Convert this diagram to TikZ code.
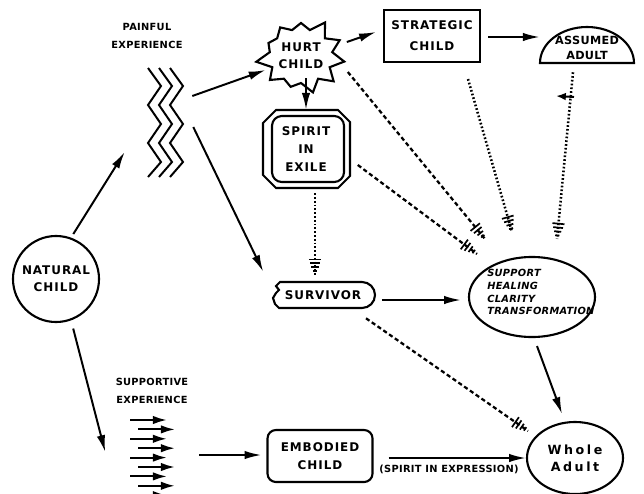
\documentclass[tikz,border=0pt]{standalone}
\usepackage{fontspec}
\newfontfamily\plotfont[LetterSpace=8]{DejaVu Sans}
\newfontfamily\smallplotfont[LetterSpace=3]{DejaVu Sans}
\newfontfamily\wholefont[LetterSpace=20]{DejaVu Sans}
\usetikzlibrary{shapes,arrows.meta,calc,decorations.markings}

\tikzset{
  lbl/.style={font=\plotfont\bfseries\fontsize{8.5}{12}\selectfont, align=center, inner sep=0pt},
  smalllbl/.style={font=\smallplotfont\bfseries\fontsize{7}{12.7}\selectfont, align=center, inner sep=0pt},
  box/.style={draw, line width=1.5pt},
  arr/.style={line width=1.4pt, -{Latex[length=12pt,width=6pt]}},
  smallarr/.style={line width=1.5pt, -{Latex[length=10pt,width=6pt]}},
  dotline/.style={line width=1.8pt, dash pattern=on 1.2pt off 1.5pt},
  dashline/.style={line width=1.6pt, dash pattern=on 3pt off 2pt},
  hatch/.style={postaction={decorate}, decoration={markings,
    mark=at position -2.5pt with {\draw[solid,line width=1.2pt] (0,-1.5pt) -- (0,1.5pt);},
    mark=at position -5.3pt with {\draw[solid,line width=1.2pt] (0,-2.5pt) -- (0,2.5pt);},
    mark=at position -8.1pt with {\draw[solid,line width=1.2pt] (0,-3.5pt) -- (0,3.5pt);},
    mark=at position -10.9pt with {\draw[solid,line width=1.2pt] (0,-4.3pt) -- (0,4.3pt);}}},
}

\begin{document}
\begin{tikzpicture}[x=0.025cm, y=-0.025cm]
\useasboundingbox (0,0) rectangle (644,493);

% nodes
\node[lbl, box, circle, minimum size=2.15cm] (natural) at (56,279) {NATURAL\\CHILD};
\node[smalllbl] (painfultext) at (147,36) {PAINFUL\\EXPERIENCE};
\node[minimum width=0.875cm, minimum height=2.725cm, inner sep=0pt] (painful) at (165,122) {};
\node[lbl, box, starburst, starburst points=11, starburst point height=0.35cm,
      random starburst=42, minimum width=2.1cm, minimum height=2.05cm] (hurt) at (301,56) {HURT\\CHILD};
\node[lbl, box, minimum width=2.4cm, minimum height=1.3cm,
      font=\plotfont\bfseries\fontsize{8.5}{15}\selectfont] (strategic) at (432,36) {STRATEGIC\\CHILD};
\node[lbl, minimum width=2.35cm, minimum height=0.9cm,
      font=\smallplotfont\bfseries\fontsize{8}{10.8}\selectfont] (assumed) at (587,48) {ASSUMED\\ADULT};
\node[lbl, minimum width=2.175cm, minimum height=1.95cm,
      font=\plotfont\bfseries\fontsize{8.5}{12.7}\selectfont] (spirit) at (306,149) {SPIRIT\\IN\\EXILE};
\node[lbl, minimum width=2.575cm, minimum height=0.65cm] (survivor) at (323,295) {SURVIVOR};
\node[box, ellipse, minimum width=3.15cm, minimum height=2cm, inner sep=0pt] (support) at (532,297) {};
\node[lbl, anchor=west, align=left,
      font=\smallplotfont\bfseries\itshape\fontsize{7}{9.2}\selectfont] (supportlist) at (487,292)
      {SUPPORT\\HEALING\\CLARITY\\TRANSFORMATION};
\node[smalllbl] (supportivetext) at (152,391) {SUPPORTIVE\\EXPERIENCE};
\node[minimum width=1.125cm, minimum height=1.875cm, inner sep=0pt] (supportive) at (152,455) {};
\node[lbl, box, rounded corners=6pt, minimum width=2.625cm, minimum height=1.3cm,
      font=\plotfont\bfseries\fontsize{8.5}{12.7}\selectfont] (embodied) at (320,456) {EMBODIED\\CHILD};
\node[lbl, box, ellipse, minimum width=2.4cm, minimum height=1.8cm,
      font=\wholefont\bfseries\fontsize{9}{12}\selectfont] (whole) at (575,458) {Whole\\Adult};

% outlines drawn by hand
\foreach \x in {148,159,170}
  \draw[line width=1.4pt] (\x,68) -- ++(13,18) -- ++(-13,19) -- ++(13,19) -- ++(-13,19) -- ++(13,19) -- ++(-13,15);
\draw[line width=1.5pt] (540,63) -- (634,63) arc[start angle=0, end angle=-180, x radius=47, y radius=36] -- cycle;
\draw[line width=1.5pt] (276,110) -- (338,110) -- (350,122) -- (350,176) -- (338,188) -- (276,188)
  -- (263,175) -- (263,123) -- cycle;
\draw[line width=1.5pt, rounded corners=7pt] (272,116) rectangle (344,182);
\draw[line width=1.5pt] (280,282) -- (362,282) arc[start angle=-90, end angle=90, radius=13] -- (279,308)
  -- (275,304) -- (273,298) -- (276,293) -- (279,290) -- (276,286) -- cycle;
\foreach \y in {420,438.8,457.6,476.4,495.2}
  \draw[smallarr] (130,\y) -- (167,\y);
\foreach \y in {429.4,448.2,467,485.8}
  \draw[smallarr] (138,\y) -- (175,\y);

% connectors
\draw[arr, shorten <=3pt] (natural.70) -- ($(painful.west)+(-22.5,30)$);
\draw[arr] ($(painful.east)+(9.5,-26)$) -- ($(hurt.west)+(3,14)$);
\draw[arr] ($(painful.east)+(10.5,5)$) -- ($(survivor.north west)+(-8,-10)$);
\draw[arr, shorten <=6pt] (natural.-70) -- ($(supportive.west)+(-24,-3)$);
\draw[arr] ($(hurt.east)+(8,-14)$) -- ($(strategic.west)+(-7,-4)$);
\draw[arr] ($(strategic.east)+(7,1)$) -- ($(assumed.west)+(0,-11)$);
\draw[arr] ($(hurt.south -| spirit.north)+(0,-6)$) -- (spirit.north);
\draw[arr] ($(survivor.east)+(7,5)$) -- ($(support.west)+(-7,3)$);
\draw[arr] ($(support.south)+(5,8)$) -- ($(whole.north)+(-13,-7)$);
\draw[arr] ($(supportive.east)+(24.5,0)$) -- ($(embodied.west)+(-5,-1)$);
\draw[arr] ($(embodied.east)+(15,2)$) -- (whole.west)
  node[smalllbl, pos=0.44, below=4pt] (expression) {(SPIRIT IN EXPRESSION)};
\draw[line width=1.4pt, -{Latex[length=7pt,width=5.5pt]}] (574,97) -- (556,96);

% hatched lines
\draw[dashline, hatch] ($(hurt.east)+(9,16)$) -- ($(support.north)+(-47,-17)$);
\draw[dotline, hatch] ($(strategic.south)+(36,16)$) -- ($(support.north)+(-20,-24)$);
\draw[dotline, hatch] ($(assumed.south)+(-14,6)$) -- ($(support.north)+(25,-17)$);
\draw[dashline, hatch] ($(spirit.east)+(8,16)$) -- ($(support.north)+(-55,-2)$);
\draw[dotline, hatch] ($(spirit.south)+(9,5)$) -- ($(survivor.north)+(-8,-7)$);
\draw[dashline, hatch] ($(survivor.south)+(43,10)$) -- ($(whole.north)+(-47,10)$);
\end{tikzpicture}
\end{document}
